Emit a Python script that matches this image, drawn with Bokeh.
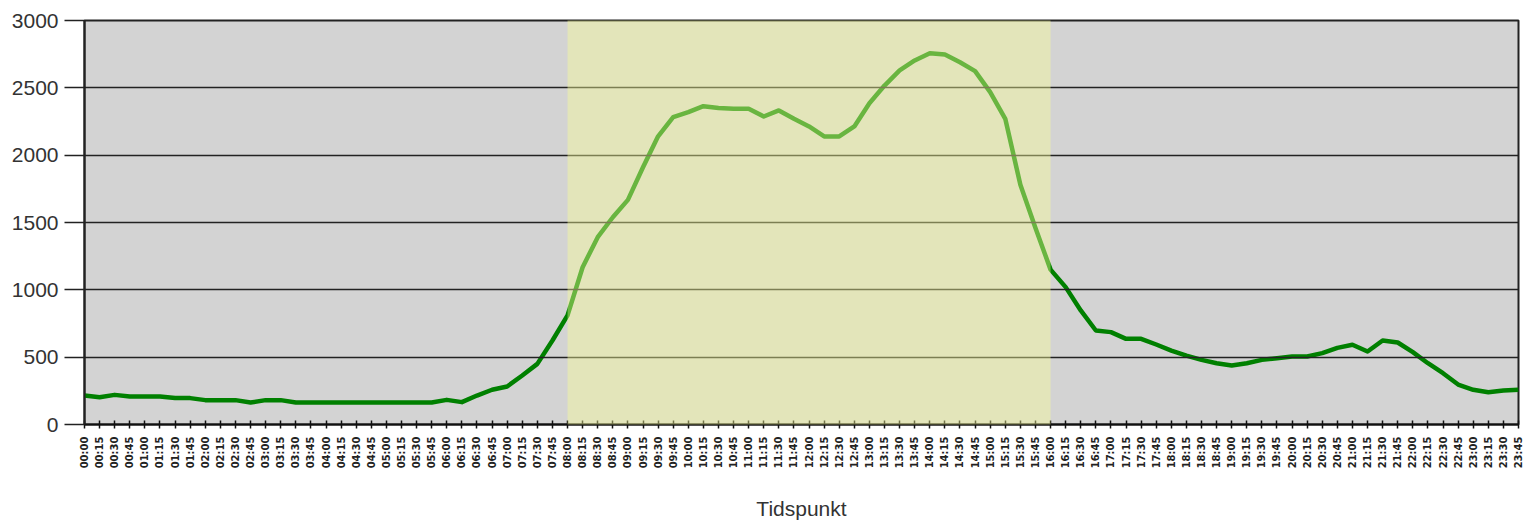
import math
from bokeh.plotting import figure
from bokeh.models import Range1d, FixedTicker, BoxAnnotation
from bokeh.embed import file_html
from bokeh.resources import INLINE

# ---- data -------------------------------------------------------------
time_labels = [f"{h:02d}:{m:02d}" for h in range(24) for m in (0, 15, 30, 45)]
values = [
    215, 203, 220, 208, 208, 208, 196, 196, 181, 181, 181, 163,
    181, 181, 163, 163, 163, 163, 163, 163, 163, 163, 163, 163,
    183, 166, 215, 258, 282, 364, 450, 624, 810, 1168, 1391, 1539,
    1668, 1910, 2140, 2282, 2319, 2364, 2351, 2344, 2344, 2287, 2332, 2270,
    2213, 2139, 2139, 2213, 2386, 2517, 2629, 2703, 2757, 2747, 2690, 2624,
    2468, 2270, 1780, 1460, 1150, 1020, 847, 698, 686, 636, 636, 594,
    549, 512, 480, 455, 438, 455, 480, 492, 505, 505, 530, 569,
    592, 542, 624, 609, 537, 455, 381, 297, 258, 240, 252, 258,
]
y_ticks = [0, 500, 1000, 1500, 2000, 2500, 3000]
highlight_start = "08:00"
highlight_end = "16:00"
x_title = "Tidspunkt"

x = list(range(len(time_labels)))

# ---- figure -----------------------------------------------------------
p = figure(
    frame_width=1434, frame_height=404,
    x_range=Range1d(0, len(time_labels) - 1), y_range=Range1d(0, 3000),
    output_backend="svg", toolbar_location=None,
    min_border_left=84, min_border_right=12, min_border_top=20, min_border_bottom=96,
    background_fill_color="#D3D3D3", border_fill_color="white",
)
p.outline_line_color = "#222222"
p.outline_line_width = 2

# grid
p.xgrid.grid_line_color = None
p.ygrid.grid_line_color = "#222222"
p.ygrid.grid_line_width = 1.5
p.ygrid.level = "glyph"

# y axis
p.yaxis.ticker = FixedTicker(ticks=y_ticks)
p.yaxis.major_label_text_font = "Liberation Sans"
p.yaxis.major_label_text_font_size = "21px"
p.yaxis.major_label_text_color = "#333333"
p.yaxis.major_tick_out = 20
p.yaxis.major_tick_in = 0
p.yaxis.major_tick_line_color = "#222222"
p.yaxis.major_tick_line_width = 1.5
p.yaxis.minor_tick_line_color = None
p.yaxis.major_label_standoff = 6
p.yaxis.axis_line_color = "#222222"
p.yaxis.axis_line_width = 2

# x axis
p.xaxis.ticker = FixedTicker(ticks=x)
p.xaxis.major_label_overrides = {i: t for i, t in zip(x, time_labels)}
p.xaxis.major_label_orientation = math.pi / 2
p.xaxis.major_label_text_font = "DejaVu Sans"
p.xaxis.major_label_text_font_size = "10px"
p.xaxis.major_label_text_font_style = "bold"
p.xaxis.major_label_text_color = "#222222"
p.xaxis.major_label_standoff = 8
p.xaxis.major_tick_in = 4
p.xaxis.major_tick_out = 4
p.xaxis.major_tick_line_color = "#111111"
p.xaxis.major_tick_line_width = 1.5
p.xaxis.minor_tick_line_color = None
p.xaxis.axis_line_color = "#111111"
p.xaxis.axis_line_width = 2
p.xaxis.axis_label = x_title
p.xaxis.axis_label_text_font = "Liberation Sans"
p.xaxis.axis_label_text_font_size = "21px"
p.xaxis.axis_label_text_font_style = "normal"
p.xaxis.axis_label_text_color = "#333333"
p.xaxis.axis_label_standoff = 26

# data line
p.line(x, values, line_color="#008000", line_width=4.5, line_join="round")

# highlighted period (semi-transparent overlay)
hs = time_labels.index(highlight_start)
he = time_labels.index(highlight_end)
box = BoxAnnotation(left=hs, right=he, bottom=-30, top=3030,
                    fill_color="#FAFF99", fill_alpha=0.42,
                    line_color=None, level="overlay")
p.add_layout(box)

open("out.html", "w").write(file_html(p, INLINE))
